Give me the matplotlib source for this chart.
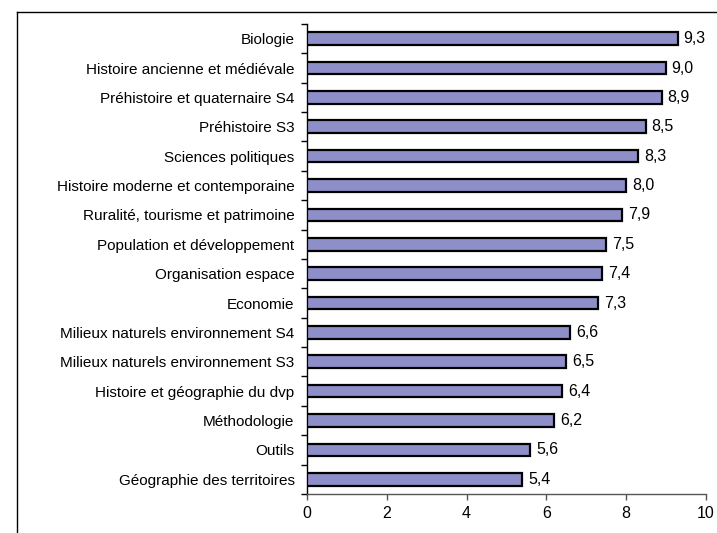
import matplotlib.pyplot as plt
import numpy as np
from matplotlib.lines import Line2D

plt.rcParams['font.family'] = ['Liberation Sans', 'DejaVu Sans']

# listed top to bottom
modules = ["Biologie", "Histoire ancienne et médiévale",
           "Préhistoire et quaternaire S4", "Préhistoire S3",
           "Sciences politiques", "Histoire moderne et contemporaine",
           "Ruralité, tourisme et patrimoine", "Population et développement",
           "Organisation espace", "Economie",
           "Milieux naturels environnement S4",
           "Milieux naturels environnement S3",
           "Histoire et géographie du dvp", "Méthodologie", "Outils",
           "Géographie des territoires"]
scores = [9.3, 9.0, 8.9, 8.5, 8.3, 8.0, 7.9, 7.5, 7.4, 7.3,
          6.6, 6.5, 6.4, 6.2, 5.6, 5.4]
xticks = [0, 2, 4, 6, 8, 10]

fs_lab = 11
fs_num = 11.5

fig = plt.figure(figsize=(7.17, 5.33), dpi=100)
ax = fig.add_axes([0.4282, 0.0732, 0.5565, 0.8818])

n = len(modules)
ypos = np.arange(n)[::-1]
ax.barh(ypos, scores, height=0.43, color='#8E8EC8', edgecolor='black',
        linewidth=1.6, zorder=3)

for y, v in zip(ypos, scores):
    ax.annotate(f"{v:.1f}".replace('.', ','), (v, y), xytext=(4, 0),
                textcoords='offset points', va='center', ha='left',
                fontsize=fs_num)

ax.set_xlim(0, 10)
ax.set_ylim(-0.5, n - 0.5)
ax.set_xticks(xticks)
ax.set_xticklabels([str(t) for t in xticks], fontsize=fs_num)

# category labels centred on bars, tick marks on the boundaries
ax.set_yticks(ypos)
ax.set_yticklabels(modules, fontsize=fs_lab)
ax.tick_params(axis='y', which='major', length=0, pad=9)
ax.set_yticks(np.arange(-0.5, n, 1.0), minor=True)
ax.tick_params(axis='y', which='minor', length=4, width=1, direction='out')
ax.tick_params(axis='x', length=4, width=1, direction='out', pad=5,
               color='#555555')

for side in ('top', 'right'):
    ax.spines[side].set_visible(False)
ax.spines['left'].set_linewidth(1)
ax.spines['bottom'].set_color('#555555')
ax.spines['bottom'].set_linewidth(1)

# outer chart frame
fx = 16.5 / 717
fy = 1 - 11.5 / 533
fig.add_artist(Line2D([fx, fx], [0, fy], color='black', linewidth=1,
                      transform=fig.transFigure))
fig.add_artist(Line2D([fx, 1], [fy, fy], color='black', linewidth=1,
                      transform=fig.transFigure))

fig.savefig('out.png', dpi=100)
